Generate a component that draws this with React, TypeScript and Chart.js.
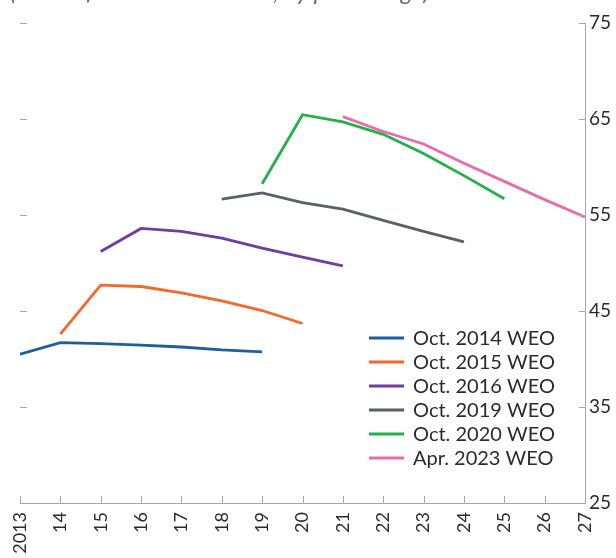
import React, { useEffect, useRef } from "react";
import { Chart, registerables } from "chart.js";

Chart.register(...registerables);

const seriesNames = [
  "Oct. 2014 WEO",
  "Oct. 2015 WEO",
  "Oct. 2016 WEO",
  "Oct. 2019 WEO",
  "Oct. 2020 WEO",
  "Apr. 2023 WEO",
];
const seriesColors = ["#1c5f9f", "#f4692a", "#6f3c9f", "#5b6066", "#23b04a", "#e86ca9"];

const years2014 = [2013, 2014, 2015, 2016, 2017, 2018, 2019];
const values2014 = [40.5, 41.7, 41.6, 41.45, 41.25, 40.95, 40.75];

const years2015 = [2014, 2015, 2016, 2017, 2018, 2019, 2020];
const values2015 = [42.6, 47.7, 47.55, 46.9, 46.05, 45.05, 43.7];

const years2016 = [2015, 2016, 2017, 2018, 2019, 2020, 2021];
const values2016 = [51.2, 53.6, 53.3, 52.6, 51.55, 50.6, 49.7];

const years2019 = [2018, 2019, 2020, 2021, 2022, 2023, 2024];
const values2019 = [56.65, 57.3, 56.3, 55.6, 54.45, 53.3, 52.2];

const years2020 = [2019, 2020, 2021, 2022, 2023, 2024, 2025];
const values2020 = [58.25, 65.45, 64.7, 63.4, 61.4, 59.1, 56.7];

const years2023 = [2021, 2022, 2023, 2024, 2025, 2026, 2027];
const values2023 = [65.25, 63.7, 62.4, 60.4, 58.5, 56.6, 54.8];

const seriesYears = [years2014, years2015, years2016, years2019, years2020, years2023];
const seriesValues = [values2014, values2015, values2016, values2019, values2020, values2023];

const yTicks = [25, 35, 45, 55, 65, 75];
const xMin = 2013;
const xMax = 2027;
const subtitle = "(Ratio of total debt to GDP, by percentage)";

const FONT = "Lato, 'Open Sans', sans-serif";

const decorPlugin = {
  id: "decor",
  afterDraw(chart: any) {
    const { ctx, chartArea } = chart;
    const x = chart.scales.x;
    const y = chart.scales.y;
    ctx.save();
    ctx.strokeStyle = "#a8a8a8";
    ctx.lineWidth = 1;
    ctx.beginPath();
    for (const v of yTicks) {
      const py = Math.round(y.getPixelForValue(v)) + 0.5;
      if (v !== 25) {
        ctx.moveTo(chartArea.left, py);
        ctx.lineTo(chartArea.left + 7, py);
      }
      ctx.moveTo(chartArea.right - 6, py);
      ctx.lineTo(chartArea.right, py);
    }
    for (let v = xMin; v <= xMax; v++) {
      const px = Math.round(x.getPixelForValue(v)) + 0.5;
      ctx.moveTo(px, chartArea.bottom);
      ctx.lineTo(px, chartArea.bottom - 7);
    }
    ctx.stroke();

    // legend
    const lx = chartArea.right - 216;
    const ly = chartArea.top + 315;
    ctx.font = `20px ${FONT}`;
    ctx.textBaseline = "middle";
    ctx.textAlign = "left";
    seriesNames.forEach((name, i) => {
      const yy = ly + i * 24;
      ctx.strokeStyle = seriesColors[i];
      ctx.lineWidth = 3;
      ctx.beginPath();
      ctx.moveTo(lx, yy);
      ctx.lineTo(lx + 35, yy);
      ctx.stroke();
      ctx.fillStyle = "#2b2b2b";
      ctx.fillText(name, lx + 44, yy + 1);
    });

    // subtitle (cut off at the top)
    ctx.font = `italic 24px ${FONT}`;
    ctx.fillStyle = "#6a6a6a";
    ctx.textBaseline = "alphabetic";
    ctx.fillText(subtitle, 10, 0);
    ctx.restore();
  },
};

export default function App() {
  const ref = useRef<HTMLCanvasElement | null>(null);
  useEffect(() => {
    if (!ref.current) return;
    const datasets = seriesNames.map((name, i) => ({
      label: name,
      data: seriesYears[i].map((yr, j) => ({ x: yr, y: seriesValues[i][j] })),
      borderColor: seriesColors[i],
      backgroundColor: seriesColors[i],
      borderWidth: 2.8,
      pointRadius: 0,
      tension: 0,
      fill: false,
    }));
    const chart = new Chart(ref.current, {
      type: "line",
      data: { datasets },
      plugins: [decorPlugin],
      options: {
        responsive: false,
        animation: false,
        layout: { padding: { left: 20, top: 23, right: 0, bottom: 0 } },
        plugins: { legend: { display: false }, tooltip: { enabled: false } },
        scales: {
          x: {
            type: "linear",
            min: xMin,
            max: xMax,
            position: "bottom",
            grid: { display: false, drawTicks: false },
            border: { display: true, color: "#a8a8a8", width: 1 },
            ticks: {
              stepSize: 1,
              minRotation: 90,
              maxRotation: 90,
              padding: 9,
              color: "#2b2b2b",
              font: { family: FONT, size: 18 },
              callback: (v: any) => (v === 2013 ? "2013" : String(v - 2000)),
            },
            afterFit: (s: any) => {
              s.height = 55;
            },
          },
          y: {
            type: "linear",
            min: 25,
            max: 75,
            position: "right",
            grid: { display: false, drawTicks: false },
            border: { display: true, color: "#a8a8a8", width: 1 },
            ticks: {
              stepSize: 10,
              padding: 4,
              color: "#2b2b2b",
              font: { family: FONT, size: 19 },
            },
            afterFit: (s: any) => {
              s.width = 31;
            },
          },
        },
      },
    });
    return () => chart.destroy();
  }, []);
  return (
    <div style={{ position: "absolute", left: 0, top: 0, width: 616, height: 558, background: "#fff" }}>
      <canvas ref={ref} width={616} height={558} style={{ display: "block" }} />
    </div>
  );
}
